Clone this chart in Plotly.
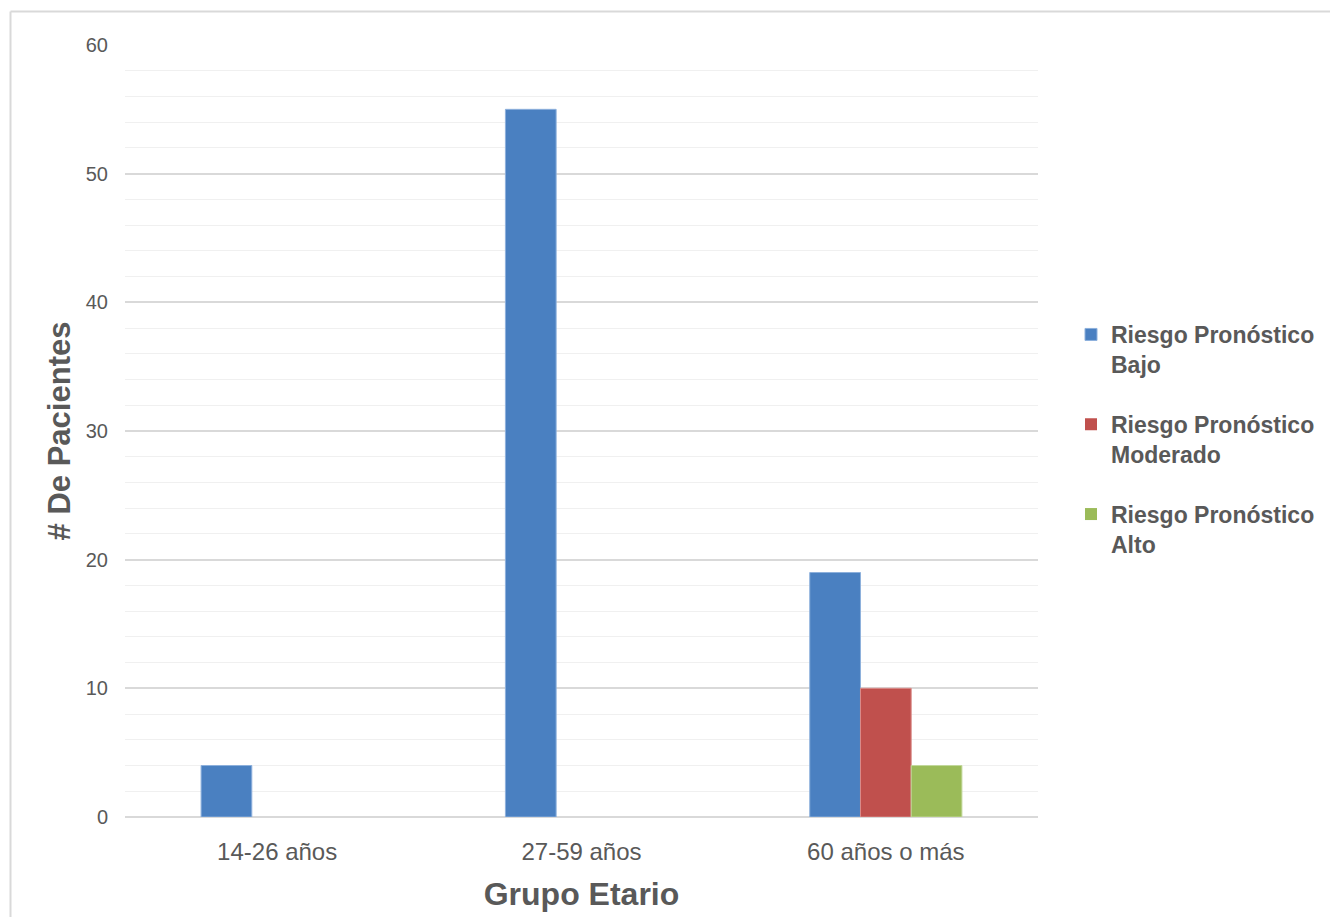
import plotly.graph_objects as go

categories = ["14-26 años", "27-59 años", "60 años o más"]
series_names = ["Riesgo Pronóstico<br>Bajo", "Riesgo Pronóstico<br>Moderado", "Riesgo Pronóstico<br>Alto"]
bajo = [4, 55, 19]
moderado = [0, 0, 10]
alto = [0, 0, 4]
colors = ["#4A80C1", "#C0504D", "#9BBB59"]
outline = ["#8DB0DC", "#DA8B89", "#C3D89B"]
y_ticks = [0, 10, 20, 30, 40, 50, 60]

# page has an 8px body margin, so the figure is sized to fit inside it
OFF = 8
W, H = 1338 - OFF, 917 - OFF
L, T = 125 - OFF, 45 - OFF
pw, ph = 913, 772
R, B = W - L - pw, H - T - ph

def px_to_paper_x(px):
    return (px - OFF - L) / pw

def px_to_paper_y(py):
    return (T + ph - (py - OFF)) / ph

fig = go.Figure()
for name, vals, c, oc in zip(series_names, [bajo, moderado, alto], colors, outline):
    fig.add_trace(go.Bar(
        x=categories, y=vals, name=name,
        marker=dict(color=c, line=dict(color=oc, width=[1 if v else 0 for v in vals])),
        legendgroup=name,
    ))

txt = "#595959"
fam = "Liberation Sans, Arial, sans-serif"
fig.update_layout(
    width=W, height=H,
    margin=dict(l=L, r=R, t=T, b=B, autoexpand=False),
    paper_bgcolor="white", plot_bgcolor="white",
    barmode="group", bargap=0.5, bargroupgap=0,
    font=dict(family=fam, color=txt),
    legend=dict(
        x=px_to_paper_x(1071), y=px_to_paper_y(313), xanchor="left", yanchor="top",
        font=dict(size=23, color=txt, family=fam, weight="bold"),
        valign="top", tracegroupgap=27, itemwidth=30,
        bgcolor="rgba(0,0,0,0)",
    ),
    xaxis=dict(
        showgrid=False, zeroline=False, showline=False,
        tickfont=dict(size=24, color=txt),
        ticklabelstandoff=18,
        title=dict(text="Grupo Etario", font=dict(size=32, color=txt, weight="bold"), standoff=18),
    ),
    yaxis=dict(
        range=[0, 60], tickvals=y_ticks,
        showgrid=True, gridcolor="#D9D9D9", gridwidth=1.5,
        minor=dict(dtick=2, showgrid=True, gridcolor="#F0F0F0", gridwidth=1),
        zeroline=True, zerolinecolor="#D9D9D9", zerolinewidth=1.5,
        showline=False,
        tickfont=dict(size=20, color=txt),
        ticklabelstandoff=16,
        title=dict(text="# De Pacientes", font=dict(size=31, color=txt, weight="bold"), standoff=5),
    ),
    shapes=[
        dict(type="line", xref="paper", yref="paper",
             x0=px_to_paper_x(10.5), x1=px_to_paper_x(1345),
             y0=px_to_paper_y(11.5), y1=px_to_paper_y(11.5),
             line=dict(color="#D9D9D9", width=2)),
        dict(type="line", xref="paper", yref="paper",
             x0=px_to_paper_x(10.5), x1=px_to_paper_x(10.5),
             y0=px_to_paper_y(11.5), y1=px_to_paper_y(925),
             line=dict(color="#D9D9D9", width=2)),
    ],
)

fig.write_html("out.html")
